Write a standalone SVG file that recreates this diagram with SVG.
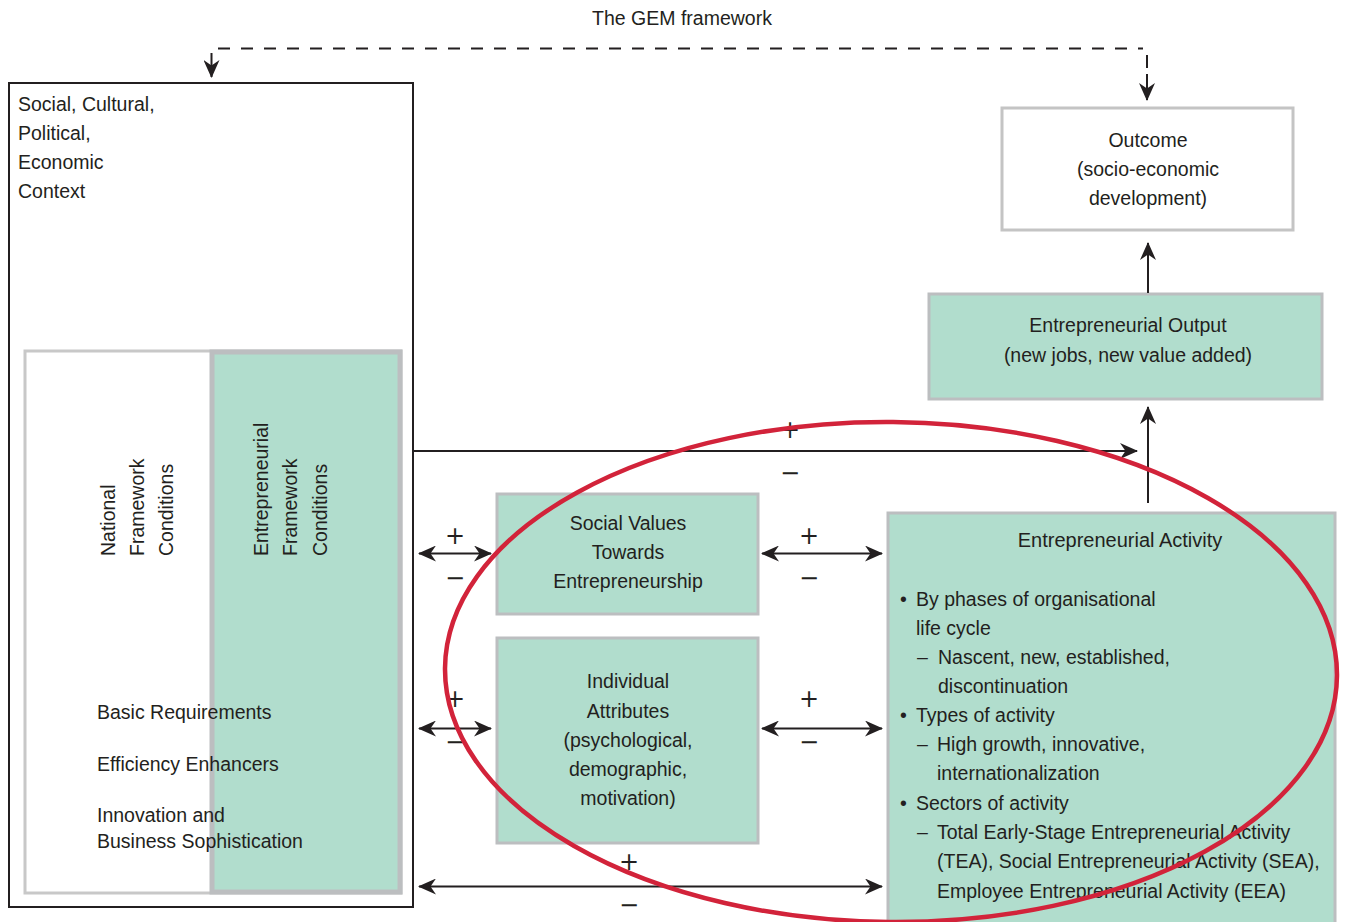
<svg xmlns="http://www.w3.org/2000/svg" width="1345" height="922" viewBox="0 0 1345 922">
  <defs>
    <marker id="head" markerUnits="userSpaceOnUse" viewBox="0 0 18 16" refX="17" refY="8" markerWidth="18" markerHeight="16" orient="auto-start-reverse">
      <path d="M18,8 L0,0 L5.5,8 L0,16 Z" fill="#231f20"/>
    </marker>
    <style>
      text { font-family: "Liberation Sans", Arial, sans-serif; font-size: 19.5px; fill: #231f20; }
      .c { text-anchor: middle; }
      .sign { font-family: "DejaVu Sans", sans-serif; font-size: 24px; text-anchor: middle; }
      .green { fill: #b1ddcd; stroke: #bcbec0; stroke-width: 3; }
      .white { fill: #ffffff; stroke: #c4c4c4; stroke-width: 3; }
      .arrow { fill: none; stroke: #231f20; stroke-width: 2; }
      .dash { fill: none; stroke: #231f20; stroke-width: 2; stroke-dasharray: 12 11; }
    </style>
  </defs>

  <rect width="1345" height="922" fill="#ffffff"/>

  <text class="c" x="682" y="25">The GEM framework</text>

  <!-- Context box holding the framework conditions -->
  <g id="context">
    <rect x="9" y="83" width="404" height="824" fill="#ffffff" stroke="#231f20" stroke-width="2"/>
    <text x="18" y="111">Social, Cultural,</text>
    <text x="18" y="140">Political,</text>
    <text x="18" y="169">Economic</text>
    <text x="18" y="198">Context</text>
  </g>

  <g id="national-framework">
    <rect x="25" y="351" width="376" height="542" fill="#ffffff" stroke="#c8c8c8" stroke-width="3"/>
  </g>

  <g id="entrepreneurial-framework">
    <rect x="212" y="352" width="188" height="540" fill="#b1ddcd" stroke="#bcbec0" stroke-width="5"/>
  </g>

  <g id="framework-labels">
    <text transform="translate(115 556) rotate(-90)">National</text>
    <text transform="translate(144 556) rotate(-90)">Framework</text>
    <text transform="translate(173 556) rotate(-90)">Conditions</text>
    <text transform="translate(268 556) rotate(-90)">Entrepreneurial</text>
    <text transform="translate(297 556) rotate(-90)">Framework</text>
    <text transform="translate(327 556) rotate(-90)">Conditions</text>
    <text x="97" y="719">Basic Requirements</text>
    <text x="97" y="771">Efficiency Enhancers</text>
    <text x="97" y="822">Innovation and</text>
    <text x="97" y="848">Business Sophistication</text>
  </g>

  <g id="outcome">
    <rect class="white" x="1002" y="108" width="291" height="122"/>
    <text class="c" x="1148" y="147">Outcome</text>
    <text class="c" x="1148" y="176">(socio-economic</text>
    <text class="c" x="1148" y="205">development)</text>
  </g>

  <g id="entrepreneurial-output">
    <rect class="green" x="929" y="294" width="393" height="105"/>
    <text class="c" x="1128" y="332">Entrepreneurial Output</text>
    <text class="c" x="1128" y="362">(new jobs, new value added)</text>
  </g>

  <g id="social-values">
    <rect class="green" x="497" y="494" width="261" height="120"/>
    <text class="c" x="628" y="530">Social Values</text>
    <text class="c" x="628" y="559">Towards</text>
    <text class="c" x="628" y="588">Entrepreneurship</text>
  </g>

  <g id="individual-attributes">
    <rect class="green" x="497" y="638" width="261" height="205"/>
    <text class="c" x="628" y="688">Individual</text>
    <text class="c" x="628" y="718">Attributes</text>
    <text class="c" x="628" y="747">(psychological,</text>
    <text class="c" x="628" y="776">demographic,</text>
    <text class="c" x="628" y="805">motivation)</text>
  </g>

  <g id="entrepreneurial-activity">
    <rect class="green" x="888" y="513" width="447" height="420"/>
    <text class="c" x="1120" y="547" style="font-size:20px">Entrepreneurial Activity</text>
    <text x="900" y="606">•</text>
    <text x="916" y="606">By phases of organisational</text>
    <text x="916" y="635">life cycle</text>
    <text x="917" y="664">–</text>
    <text x="938" y="664">Nascent, new, established,</text>
    <text x="938" y="693">discontinuation</text>
    <text x="900" y="722">•</text>
    <text x="916" y="722">Types of activity</text>
    <text x="917" y="751">–</text>
    <text x="937" y="751">High growth, innovative,</text>
    <text x="937" y="780">internationalization</text>
    <text x="900" y="810">•</text>
    <text x="916" y="810">Sectors of activity</text>
    <text x="917" y="839">–</text>
    <text x="937" y="839">Total Early-Stage Entrepreneurial Activity</text>
    <text x="937" y="868">(TEA), Social Entrepreneurial Activity (SEA),</text>
    <text x="937" y="898">Employee Entrepreneurial Activity (EEA)</text>
  </g>

  <!-- Connectors -->
  <g id="connectors">
    <line class="dash" x1="218" y1="48.5" x2="1143" y2="48.5"/>
    <line class="arrow" x1="211.5" y1="53" x2="211.5" y2="77" marker-end="url(#head)"/>
    <path class="arrow" d="M1147,55 V68 M1147,74 V100" marker-end="url(#head)"/>

    <line class="arrow" x1="1148" y1="293" x2="1148" y2="243" marker-end="url(#head)"/>
    <line class="arrow" x1="1148" y1="503" x2="1148" y2="407" marker-end="url(#head)"/>
    <line class="arrow" x1="413" y1="451" x2="1137" y2="451" marker-end="url(#head)"/>

    <line class="arrow" x1="419" y1="553.5" x2="491" y2="553.5" marker-start="url(#head)" marker-end="url(#head)"/>
    <line class="arrow" x1="419" y1="728.5" x2="491" y2="728.5" marker-start="url(#head)" marker-end="url(#head)"/>
    <line class="arrow" x1="762" y1="553.5" x2="882" y2="553.5" marker-start="url(#head)" marker-end="url(#head)"/>
    <line class="arrow" x1="762" y1="728.5" x2="882" y2="728.5" marker-start="url(#head)" marker-end="url(#head)"/>
    <line class="arrow" x1="419" y1="886.5" x2="882" y2="886.5" marker-start="url(#head)" marker-end="url(#head)"/>
  </g>

  <g id="signs">
    <text class="sign" x="790" y="438">+</text>
    <text class="sign" x="790" y="481">−</text>
    <text class="sign" x="455" y="544">+</text>
    <text class="sign" x="455" y="586">−</text>
    <text class="sign" x="809" y="544">+</text>
    <text class="sign" x="809" y="586">−</text>
    <text class="sign" x="455" y="707">+</text>
    <text class="sign" x="455" y="750">−</text>
    <text class="sign" x="809" y="707">+</text>
    <text class="sign" x="809" y="750">−</text>
    <text class="sign" x="629" y="870">+</text>
    <text class="sign" x="629" y="913">−</text>
  </g>

  <!-- Highlight ring around the activity cluster -->
  <ellipse id="highlight" cx="891" cy="672" rx="446" ry="250" transform="rotate(0.5 891 672)" fill="none" stroke="#d2233a" stroke-width="4.5"/>
</svg>
